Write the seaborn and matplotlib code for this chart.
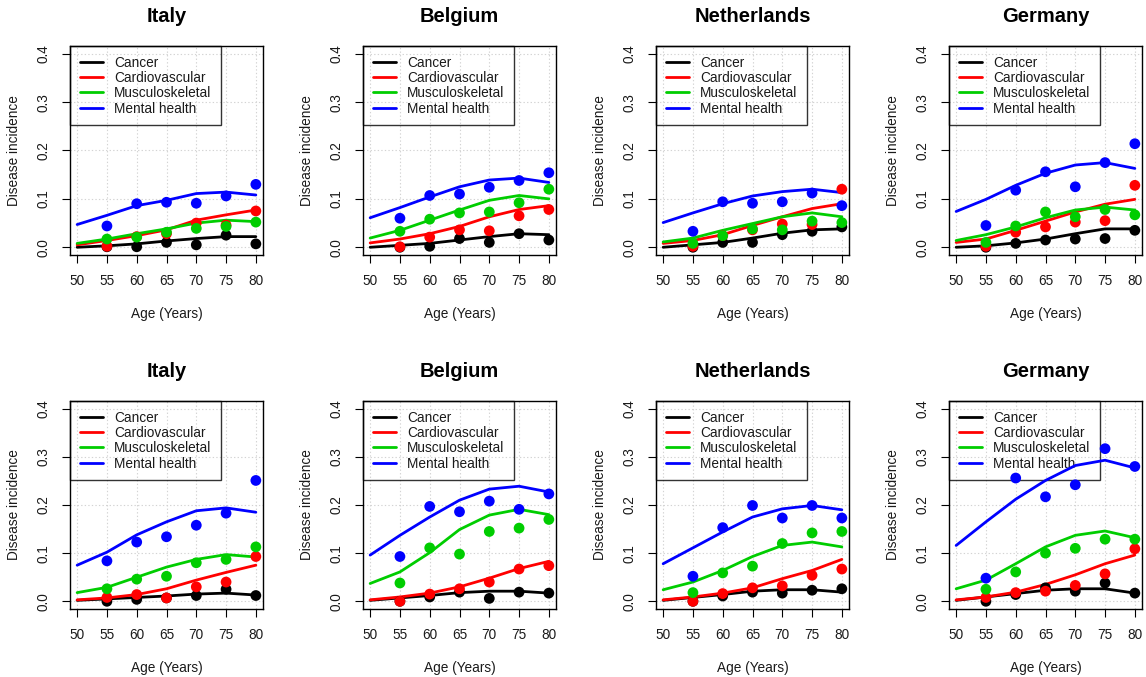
import numpy as np
import pandas as pd
import matplotlib
matplotlib.use("Agg")
import matplotlib.pyplot as plt
import seaborn as sns
from matplotlib.lines import Line2D

# ---------------- data ----------------
FIT_AGES = [50, 55, 60, 65, 70, 75, 80]
OBS_AGES = [55, 60, 65, 70, 75, 80]
DISEASES = ["Cancer", "Cardiovascular", "Musculoskeletal", "Mental health"]
COLORS = ["#000000", "#FF0000", "#00CD00", "#0000FF"]
COUNTRIES = ["Italy", "Belgium", "Netherlands", "Germany"]
X_TICKS = [50, 55, 60, 65, 70, 75, 80]
Y_TICKS = [0.0, 0.1, 0.2, 0.3, 0.4]
Y_TICK_LABELS = ["0.0", "0.1", "0.2", "0.3", "0.4"]

# Top row
italy_1_fit = {
    "Cancer":          [0.000, 0.003, 0.007, 0.013, 0.018, 0.022, 0.022],
    "Cardiovascular":  [0.005, 0.014, 0.024, 0.036, 0.056, 0.067, 0.077],
    "Musculoskeletal": [0.008, 0.017, 0.028, 0.038, 0.050, 0.056, 0.053],
    "Mental health":   [0.047, 0.066, 0.086, 0.097, 0.111, 0.114, 0.108],
}
italy_1_obs = {
    "Cancer":          [0.001, 0.001, 0.010, 0.005, 0.025, 0.007],
    "Cardiovascular":  [0.002, 0.022, 0.028, 0.050, 0.046, 0.075],
    "Musculoskeletal": [0.017, 0.021, 0.031, 0.039, 0.043, 0.052],
    "Mental health":   [0.044, 0.090, 0.093, 0.091, 0.106, 0.130],
}
belgium_1_fit = {
    "Cancer":          [0.000, 0.004, 0.008, 0.015, 0.022, 0.028, 0.026],
    "Cardiovascular":  [0.009, 0.017, 0.028, 0.043, 0.063, 0.078, 0.086],
    "Musculoskeletal": [0.019, 0.035, 0.056, 0.077, 0.097, 0.107, 0.100],
    "Mental health":   [0.061, 0.082, 0.104, 0.125, 0.139, 0.143, 0.134],
}
belgium_1_obs = {
    "Cancer":          [0.000, 0.002, 0.018, 0.010, 0.028, 0.015],
    "Cardiovascular":  [0.001, 0.021, 0.036, 0.034, 0.065, 0.078],
    "Musculoskeletal": [0.033, 0.058, 0.071, 0.073, 0.092, 0.120],
    "Mental health":   [0.060, 0.107, 0.110, 0.124, 0.138, 0.154],
}
netherlands_1_fit = {
    "Cancer":          [0.000, 0.005, 0.010, 0.019, 0.029, 0.036, 0.038],
    "Cardiovascular":  [0.008, 0.014, 0.026, 0.045, 0.063, 0.080, 0.090],
    "Musculoskeletal": [0.011, 0.019, 0.035, 0.049, 0.063, 0.071, 0.063],
    "Mental health":   [0.051, 0.071, 0.090, 0.106, 0.115, 0.120, 0.113],
}
netherlands_1_obs = {
    "Cancer":          [0.000, 0.010, 0.010, 0.026, 0.033, 0.042],
    "Cardiovascular":  [0.002, 0.024, 0.036, 0.048, 0.047, 0.120],
    "Musculoskeletal": [0.008, 0.024, 0.038, 0.036, 0.054, 0.051],
    "Mental health":   [0.033, 0.094, 0.091, 0.094, 0.112, 0.086],
}
germany_1_fit = {
    "Cancer":          [0.000, 0.003, 0.009, 0.017, 0.028, 0.038, 0.038],
    "Cardiovascular":  [0.010, 0.017, 0.035, 0.054, 0.073, 0.089, 0.099],
    "Musculoskeletal": [0.014, 0.026, 0.042, 0.061, 0.077, 0.083, 0.077],
    "Mental health":   [0.074, 0.099, 0.128, 0.153, 0.170, 0.175, 0.163],
}
germany_1_obs = {
    "Cancer":          [0.000, 0.008, 0.015, 0.017, 0.018, 0.035],
    "Cardiovascular":  [0.002, 0.031, 0.042, 0.052, 0.055, 0.128],
    "Musculoskeletal": [0.010, 0.044, 0.073, 0.063, 0.078, 0.067],
    "Mental health":   [0.045, 0.118, 0.156, 0.125, 0.175, 0.214],
}

# Bottom row
italy_2_fit = {
    "Cancer":          [0.002, 0.005, 0.008, 0.011, 0.015, 0.017, 0.013],
    "Cardiovascular":  [0.003, 0.007, 0.014, 0.026, 0.044, 0.060, 0.075],
    "Musculoskeletal": [0.018, 0.029, 0.050, 0.071, 0.087, 0.097, 0.092],
    "Mental health":   [0.075, 0.102, 0.138, 0.165, 0.188, 0.194, 0.185],
}
italy_2_obs = {
    "Cancer":          [0.000, 0.004, 0.007, 0.012, 0.025, 0.012],
    "Cardiovascular":  [0.008, 0.014, 0.007, 0.030, 0.040, 0.093],
    "Musculoskeletal": [0.026, 0.046, 0.052, 0.080, 0.087, 0.113],
    "Mental health":   [0.084, 0.123, 0.134, 0.158, 0.183, 0.251],
}
belgium_2_fit = {
    "Cancer":          [0.002, 0.007, 0.012, 0.018, 0.021, 0.021, 0.017],
    "Cardiovascular":  [0.003, 0.009, 0.017, 0.030, 0.048, 0.068, 0.083],
    "Musculoskeletal": [0.037, 0.061, 0.101, 0.149, 0.179, 0.191, 0.180],
    "Mental health":   [0.096, 0.137, 0.175, 0.210, 0.233, 0.239, 0.227],
}
belgium_2_obs = {
    "Cancer":          [0.000, 0.009, 0.019, 0.006, 0.019, 0.017],
    "Cardiovascular":  [0.000, 0.015, 0.026, 0.040, 0.067, 0.074],
    "Musculoskeletal": [0.038, 0.111, 0.098, 0.145, 0.152, 0.170],
    "Mental health":   [0.093, 0.197, 0.186, 0.208, 0.191, 0.223],
}
netherlands_2_fit = {
    "Cancer":          [0.002, 0.008, 0.014, 0.021, 0.024, 0.024, 0.019],
    "Cardiovascular":  [0.003, 0.009, 0.017, 0.028, 0.047, 0.064, 0.087],
    "Musculoskeletal": [0.024, 0.040, 0.064, 0.093, 0.116, 0.123, 0.113],
    "Mental health":   [0.078, 0.111, 0.144, 0.175, 0.192, 0.199, 0.190],
}
netherlands_2_obs = {
    "Cancer":          [0.000, 0.011, 0.019, 0.017, 0.023, 0.026],
    "Cardiovascular":  [0.000, 0.016, 0.028, 0.032, 0.054, 0.067],
    "Musculoskeletal": [0.018, 0.059, 0.073, 0.120, 0.142, 0.145],
    "Mental health":   [0.052, 0.153, 0.199, 0.173, 0.199, 0.173],
}
germany_2_fit = {
    "Cancer":          [0.002, 0.009, 0.016, 0.023, 0.026, 0.026, 0.017],
    "Cardiovascular":  [0.003, 0.009, 0.019, 0.035, 0.055, 0.078, 0.096],
    "Musculoskeletal": [0.026, 0.044, 0.078, 0.113, 0.137, 0.146, 0.132],
    "Mental health":   [0.116, 0.165, 0.212, 0.251, 0.282, 0.293, 0.277],
}
germany_2_obs = {
    "Cancer":          [0.000, 0.014, 0.028, 0.021, 0.038, 0.017],
    "Cardiovascular":  [0.008, 0.018, 0.021, 0.033, 0.057, 0.109],
    "Musculoskeletal": [0.025, 0.061, 0.100, 0.110, 0.129, 0.129],
    "Mental health":   [0.048, 0.256, 0.217, 0.242, 0.317, 0.280],
}

PANELS = [
    (0, 0, italy_1_fit, italy_1_obs),
    (0, 1, belgium_1_fit, belgium_1_obs),
    (0, 2, netherlands_1_fit, netherlands_1_obs),
    (0, 3, germany_1_fit, germany_1_obs),
    (1, 0, italy_2_fit, italy_2_obs),
    (1, 1, belgium_2_fit, belgium_2_obs),
    (1, 2, netherlands_2_fit, netherlands_2_obs),
    (1, 3, germany_2_fit, germany_2_obs),
]

# ---------------- style ----------------
sns.set_style("white")
plt.rcParams["font.family"] = ["Liberation Sans", "DejaVu Sans"]
TEXT_COLOR = "#1a1a1a"

W, H = 1146, 677
fig = plt.figure(figsize=(W / 100, H / 100), dpi=100)

# axes placement in pixels
AX_LEFT0, AX_STEP, AX_W = 70, 293, 193
ROW_TOP = [46, 401]
ROW_BOT = [255, 609]


def long_df(d, ages):
    rows = []
    for dis in DISEASES:
        for a, v in zip(ages, d[dis]):
            rows.append({"Age": a, "Incidence": v, "Disease": dis})
    return pd.DataFrame(rows)


for row, col, fit, obs in PANELS:
    left = AX_LEFT0 + AX_STEP * col
    top, bot = ROW_TOP[row], ROW_BOT[row]
    ax = fig.add_axes([left / W, 1 - bot / H, AX_W / W, (bot - top) / H])

    fit_df = long_df(fit, FIT_AGES)
    obs_df = long_df(obs, OBS_AGES)

    sns.lineplot(data=fit_df, x="Age", y="Incidence", hue="Disease",
                 hue_order=DISEASES, palette=COLORS, lw=2.0, legend=False,
                 estimator=None, ax=ax, zorder=3)
    sns.scatterplot(data=obs_df, x="Age", y="Incidence", hue="Disease",
                    hue_order=DISEASES, palette=COLORS, s=60, linewidth=0,
                    legend=False, ax=ax, zorder=4)

    ax.set_xlim(48.8, 81.2)
    ax.set_ylim(-0.016, 0.416)
    ax.set_xticks(X_TICKS)
    ax.set_xticklabels([str(t) for t in X_TICKS])
    ax.set_yticks(Y_TICKS)
    ax.set_yticklabels(Y_TICK_LABELS, rotation=90, va="center")

    ax.grid(True, color="#d3d3d3", linestyle=(0, (1.2, 2.0)), lw=0.8)
    ax.set_axisbelow(True)

    for sp in ax.spines.values():
        sp.set_color("#000000")
        sp.set_linewidth(1.0)

    ax.tick_params(axis="both", which="major", direction="out", length=5.8,
                   width=0.8, color="#000000", labelsize=9.8,
                   labelcolor=TEXT_COLOR, bottom=True, left=True)
    ax.tick_params(axis="x", pad=8)
    ax.tick_params(axis="y", pad=8.5)

    ax.set_title(COUNTRIES[col], fontsize=14.5, fontweight="bold",
                 color="#000000", pad=17)
    ax.set_xlabel("Age (Years)", fontsize=9.8, color=TEXT_COLOR)
    ax.set_ylabel("Disease incidence", fontsize=9.8, color=TEXT_COLOR)
    ax.xaxis.set_label_coords(0.5, -0.25)
    ax.yaxis.set_label_coords(-0.255, 0.5)

    handles = [Line2D([0], [0], color=c, lw=2.0) for c in COLORS]
    leg = ax.legend(handles, DISEASES, loc="upper left",
                    bbox_to_anchor=(0, 1), borderaxespad=0, frameon=True,
                    fancybox=False, edgecolor="#000000", facecolor="none",
                    fontsize=9.8, handlelength=1.75, handletextpad=0.8,
                    borderpad=0.7, labelspacing=0.1)
    leg.get_frame().set_linewidth(1.0)
    leg.set_zorder(2.5)
    for t in leg.get_texts():
        t.set_color(TEXT_COLOR)

fig.savefig("out.png", dpi=100)
